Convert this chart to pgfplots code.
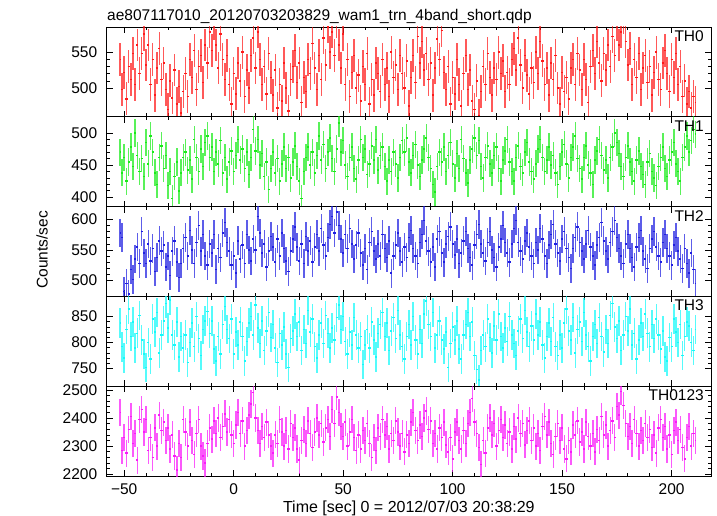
\documentclass[border=0pt]{standalone}
\usepackage{fontspec}
\setmainfont{Liberation Sans}
\usepackage{pgfplots}
\usepackage{pgfplotstable}
\pgfplotsset{compat=1.18}

\pgfplotstableread{
t a b c d e
-52 540 470 578 838 2420
-51 498 438 570 792 2285
-50 522 462 482 770 2330
-49 485 425 495 825 2275
-48 530 455 478 865 2360
-47 512 478 518 812 2405
-46 548 448 502 840 2310
-45 505 500 535 790 2345
-44 560 465 555 818 2250
-43 520 440 528 852 2395
-42 548 460 580 805 2430
-41 575 432 545 778 2350
-40 532 485 528 752 2395
-39 560 452 560 800 2285
-38 505 495 532 768 2330
-37 540 470 552 845 2260
-36 490 438 515 820 2365
-35 528 420 538 858 2300
-34 555 462 565 780 2410
-33 512 480 548 815 2355
-32 535 445 558 842 2385
-31 498 465 522 875 2320
-30 470 418 540 828 2365
-29 510 440 508 882 2290
-28 486 398 548 815 2340
-27 525 432 565 795 2265
-26 478 455 530 840 2215
-25 502 410 505 772 2310
-24 465 438 528 812 2260
-23 495 462 552 790 2395
-22 520 470 570 815 2350
-21 488 442 540 762 2300
-20 540 458 582 800 2385
-19 515 428 550 838 2320
-18 552 490 528 792 2270
-17 498 462 562 850 2345
-16 530 440 590 808 2395
-15 545 475 548 775 2300
-14 508 448 575 825 2265
-13 560 485 540 842 2240
-12 535 495 525 860 2310
-11 578 462 560 818 2365
-10 552 478 545 842 2325
-9 590 440 575 788 2390
-8 560 470 518 765 2345
-7 528 452 552 812 2400
-6 575 488 538 778 2330
-5 540 438 578 835 2370
-4 512 462 595 870 2415
-3 545 428 562 825 2350
-2 505 455 548 808 2395
-1 478 472 525 845 2340
0 520 440 540 778 2310
1 492 465 512 820 2375
2 535 490 565 795 2420
3 510 458 535 840 2345
4 550 475 558 812 2390
5 488 445 528 765 2300
6 525 470 575 802 2355
7 500 435 550 838 2410
8 545 462 532 850 2450
9 570 505 568 815 2490
10 528 472 550 872 2400
11 578 490 605 828 2355
12 540 450 578 798 2310
13 505 468 545 842 2370
14 530 432 560 785 2330
15 492 455 522 822 2385
16 548 412 548 858 2340
17 515 445 572 810 2300
18 490 470 555 835 2275
19 525 438 530 790 2340
20 472 460 568 762 2310
21 505 425 540 818 2395
22 482 452 578 795 2350
23 535 478 552 830 2300
24 500 445 532 778 2355
25 468 462 515 752 2290
26 512 430 548 808 2380
27 530 455 568 822 2330
28 552 480 588 855 2365
29 508 448 555 812 2290
30 535 425 532 840 2250
31 480 398 560 785 2320
32 515 440 528 825 2360
33 495 462 572 798 2310
34 540 478 548 862 2390
35 520 450 565 820 2345
36 562 470 530 845 2295
37 528 438 555 792 2350
38 498 465 575 770 2400
39 545 495 548 815 2340
40 512 458 585 838 2380
41 570 482 558 798 2315
42 532 445 540 852 2365
43 585 470 570 818 2395
44 550 492 592 790 2335
45 578 460 605 828 2430
46 545 440 578 805 2380
47 592 475 612 848 2475
48 560 515 590 872 2420
49 528 470 568 825 2370
50 575 488 545 850 2335
51 505 450 575 802 2385
52 540 432 552 778 2300
53 488 462 585 820 2350
54 522 478 560 795 2395
55 545 445 535 848 2330
56 500 428 558 815 2285
57 518 458 578 790 2340
58 482 490 545 812 2290
59 530 462 525 758 2355
60 505 475 552 795 2320
61 548 435 518 825 2380
62 478 452 562 790 2310
63 512 480 580 840 2260
64 490 458 548 805 2330
65 535 490 535 772 2285
66 520 442 560 818 2365
67 495 465 540 835 2335
68 540 478 575 858 2395
69 505 448 552 812 2340
70 528 425 538 838 2370
71 488 458 565 785 2290
72 550 440 512 822 2345
73 515 470 540 848 2320
74 532 452 558 808 2390
75 498 430 578 862 2350
76 545 462 548 815 2300
77 520 488 530 792 2345
78 500 470 555 768 2280
79 538 492 538 812 2340
80 475 455 570 835 2310
81 515 438 582 795 2385
82 545 465 552 850 2420
83 508 482 540 805 2355
84 572 450 528 778 2320
85 535 432 562 825 2375
86 565 458 575 798 2335
87 525 475 598 855 2400
88 548 492 565 880 2425
89 512 462 548 835 2360
90 535 445 530 812 2390
91 490 420 555 858 2310
92 528 408 522 790 2345
93 568 448 568 815 2290
94 540 470 580 842 2365
95 580 455 545 805 2330
96 522 478 530 788 2385
97 498 440 560 820 2305
98 530 465 572 752 2280
99 478 485 588 798 2330
100 515 452 560 830 2255
101 492 430 542 805 2350
102 540 468 568 842 2385
103 505 445 528 788 2320
104 475 490 545 768 2290
105 520 460 565 815 2355
106 545 438 580 835 2310
107 498 422 552 858 2380
108 525 458 538 812 2420
109 482 475 525 840 2470
110 470 492 558 775 2385
111 510 465 575 748 2345
112 462 488 592 728 2295
113 495 448 560 785 2235
114 530 430 545 815 2320
115 505 462 532 792 2275
116 548 480 562 845 2365
117 515 452 580 810 2400
118 490 438 550 780 2340
119 528 465 538 832 2380
120 512 478 522 805 2300
121 550 445 555 855 2355
122 520 425 568 812 2395
123 538 458 590 790 2330
124 495 472 562 828 2375
125 522 490 545 802 2310
126 505 455 530 850 2350
127 540 440 560 815 2290
128 555 425 585 798 2370
129 525 462 598 775 2325
130 570 480 562 822 2400
131 532 448 548 845 2345
132 500 438 535 808 2380
133 545 470 565 862 2305
134 518 485 578 820 2355
135 492 455 555 792 2390
136 528 440 540 832 2320
137 508 428 528 805 2365
138 550 452 562 855 2300
139 520 475 550 815 2345
140 565 490 585 840 2285
141 538 462 568 795 2370
142 505 440 540 770 2405
143 528 458 528 812 2340
144 490 478 558 838 2385
145 535 450 575 802 2310
146 512 465 592 848 2270
147 545 438 560 792 2335
148 500 420 545 775 2380
149 478 448 532 815 2320
150 522 470 568 790 2365
151 495 482 580 838 2290
152 515 452 552 865 2255
153 485 430 538 822 2320
154 528 462 520 805 2280
155 540 478 552 848 2375
156 505 495 570 780 2340
157 548 460 588 825 2390
158 525 445 562 840 2315
159 498 428 548 802 2350
160 540 462 535 858 2290
161 512 480 560 815 2385
162 480 450 582 792 2335
163 530 438 555 765 2300
164 552 420 540 812 2345
165 520 458 525 835 2280
166 565 472 558 798 2360
167 535 490 570 848 2320
168 510 465 595 812 2405
169 548 442 565 782 2340
170 525 458 548 825 2375
171 560 430 535 798 2300
172 530 462 562 852 2355
173 572 478 580 875 2390
174 545 500 598 830 2330
175 588 485 570 808 2440
176 560 468 552 842 2410
177 578 448 540 785 2495
178 598 432 528 815 2445
179 565 462 560 850 2380
180 532 480 575 822 2335
181 555 455 552 865 2370
182 505 440 538 795 2310
183 540 425 522 818 2395
184 515 458 555 768 2345
185 548 472 570 805 2300
186 498 448 582 838 2355
187 528 435 548 812 2320
188 545 420 535 855 2380
189 508 455 520 818 2330
190 530 468 552 792 2360
191 490 440 568 835 2295
192 522 430 580 808 2340
193 550 418 555 845 2275
194 512 448 540 815 2365
195 498 462 530 788 2395
196 535 478 562 822 2330
197 552 445 575 772 2370
198 520 432 552 765 2290
199 495 458 540 810 2340
200 540 470 525 792 2270
201 515 485 558 845 2355
202 548 452 570 820 2385
203 505 440 548 800 2320
204 530 425 535 835 2360
205 488 462 520 775 2295
206 510 478 552 812 2255
207 478 495 528 840 2330
208 495 470 512 832 2370
209 472 488 545 800 2300
210 488 505 518 785 2345
211 480 498 495 825 2320
}\lc

\definecolor{cR}{RGB}{255,25,25}
\definecolor{cG}{RGB}{25,235,25}
\definecolor{cB}{RGB}{30,30,225}
\definecolor{cC}{RGB}{20,250,250}
\definecolor{cM}{RGB}{250,25,250}

\pgfplotsset{
  panel/.style={
    scale only axis, width=604.3bp, height=89.8bp,
    xmin=-58, xmax=218,
    xtick={-50,0,50,100,150,200}, minor x tick num=4,
    minor y tick num=4,
    tick align=inside, major tick length=6bp, minor tick length=3.5bp,
    every tick/.style={black, line width=0.7pt},
    axis line style={black, line width=0.9pt},
    tick label style={font=\fontsize{15.5bp}{18bp}\selectfont, black},
    yticklabel style={xshift=-6bp},
    xticklabel style={yshift=-4bp},
    /pgf/number format/assume math mode=true,
    /pgf/number format/1000 sep={},
    xticklabels={},
    clip=true,
  },
  % upper and lower halves of the +-1 sigma bar of each time bin
  eup/.style 2 args={draw=#1, line width=1.5pt, opacity=0.72, forget plot, quiver={u=0, v=#2}},
  edn/.style 2 args={draw=#1, line width=1.5pt, opacity=0.72, forget plot, quiver={u=0, v=-#2}},
  % horizontal +-0.5 s of each time bin
  ehz/.style={draw=#1, line width=1.5pt, forget plot, const plot mark mid, jump mark mid},
}
\newcommand{\plab}[1]{\node[anchor=north east, inner sep=0pt, font=\fontsize{15.5bp}{18bp}\selectfont] at (rel axis cs:1,1) [xshift=-7bp, yshift=-3.5bp] {#1};}

\begin{document}
\begin{tikzpicture}
\useasboundingbox (0,0) rectangle (717bp,516bp);
\begin{axis}[panel, at={(106.7bp,489bp)}, anchor=north west,
  ymin=460, ymax=585, ytick={500,550}]
\addplot[eup={cR}{22.8}] table[x=t, y=a]{\lc};
\addplot[edn={cR}{22.8}] table[x=t, y=a]{\lc};
\addplot[ehz=cR] table[x=t, y=a]{\lc};
\plab{TH0}
\end{axis}
\begin{axis}[panel, at={(106.7bp,399.2bp)}, anchor=north west,
  ymin=385.5, ymax=525, ytick={400,450,500}]
\addplot[eup={cG}{21.2}] table[x=t, y=b]{\lc};
\addplot[edn={cG}{21.2}] table[x=t, y=b]{\lc};
\addplot[ehz=cG] table[x=t, y=b]{\lc};
\plab{TH1}
\end{axis}
\begin{axis}[panel, at={(106.7bp,309.4bp)}, anchor=north west,
  ymin=474, ymax=621, ytick={500,550,600}]
\addplot[eup={cB}{23.5}] table[x=t, y=c]{\lc};
\addplot[edn={cB}{23.5}] table[x=t, y=c]{\lc};
\addplot[ehz=cB] table[x=t, y=c]{\lc};
\plab{TH2}
\end{axis}
\begin{axis}[panel, at={(106.7bp,219.6bp)}, anchor=north west,
  ymin=716, ymax=889, ytick={750,800,850}]
\addplot[eup={cC}{28.5}] table[x=t, y=d]{\lc};
\addplot[edn={cC}{28.5}] table[x=t, y=d]{\lc};
\addplot[ehz=cC] table[x=t, y=d]{\lc};
\plab{TH3}
\end{axis}
\begin{axis}[panel, at={(106.7bp,129.8bp)}, anchor=north west,
  ymin=2194, ymax=2513, ytick={2200,2300,2400,2500},
  xticklabels={−50,0,50,100,150,200}]
\addplot[eup={cM}{48.3}] table[x=t, y=e]{\lc};
\addplot[edn={cM}{48.3}] table[x=t, y=e]{\lc};
\addplot[ehz=cM] table[x=t, y=e]{\lc};
\plab{TH0123}
\end{axis}
\node[anchor=base west, inner sep=0pt, font=\fontsize{15.5bp}{18bp}\selectfont] at (107bp,495.5bp) {ae807117010\_20120703203829\_wam1\_trn\_4band\_short.qdp};
\node[anchor=base, inner sep=0pt, font=\fontsize{16bp}{18bp}\selectfont] at (408.8bp,4bp) {Time [sec] 0 = 2012/07/03 20:38:29};
\node[rotate=90, inner sep=0pt, font=\fontsize{15.5bp}{18bp}\selectfont] at (42bp,266bp) {Counts/sec};
\end{tikzpicture}
\end{document}
